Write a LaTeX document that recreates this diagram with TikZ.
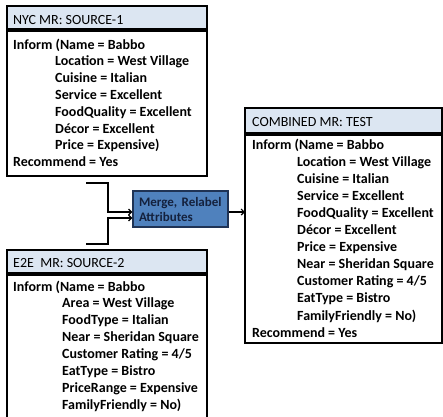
\documentclass[tikz,border=0pt]{standalone}
\usepackage{fontspec}
\setmainfont{Carlito}
\usetikzlibrary{arrows.meta}
\definecolor{hdrfill}{HTML}{DCE6F2}
\definecolor{mfill}{HTML}{4F81BD}
\definecolor{mdraw}{HTML}{1F3355}
\definecolor{mtext}{HTML}{14213D}
\begin{document}
\begin{tikzpicture}[x=1pt,y=-1pt,
  box/.style={draw=black, line width=1.3pt, anchor=north west, inner sep=0, outer sep=0},
  hdr/.style={box, fill=hdrfill},
  hdrtxt/.style={anchor=base west, inner sep=0, font=\fontsize{14}{16}\selectfont},
  bodytxt/.style={anchor=base west, inner sep=0, font=\bfseries\fontsize{14}{16}\selectfont},
  arr/.style={line width=1.2pt, -{Straight Barb[length=3pt,width=6pt]}}
]
\useasboundingbox (0,0) rectangle (443,416);
\clip (0,0) rectangle (443,416);

% Box 1
\node[hdr, minimum width=200pt, minimum height=23pt] (h1) at (7,6) {};
\node[hdrtxt] (h1t) at (13,24) {NYC MR: SOURCE-1};
\node[box, minimum width=200pt, minimum height=145pt] (b1) at (7,31) {};
\node[bodytxt] (s1a) at (13,49) {Inform (Name = Babbo};
\foreach \t [count=\i] in {Location = West Village, Cuisine = Italian, Service = Excellent, FoodQuality = Excellent, Décor = Excellent, Price = Expensive)}
  \node[bodytxt] (s1l\i) at (55,{49+16.8*\i}) {\t};
\node[bodytxt] (s1z) at (13,166.6) {Recommend = Yes};

% Box 2
\node[hdr, minimum width=200pt, minimum height=23pt] (h2) at (7,250) {};
\node[hdrtxt] (h2t) at (13,267) {E2E\ \ MR: SOURCE-2};
\node[box, minimum width=200pt, minimum height=150pt] (b2) at (7,275) {};
\node[bodytxt] (s2a) at (13,291) {Inform (Name = Babbo};
\foreach \t [count=\i] in {Area = West Village, FoodType = Italian, Near = Sheridan Square, Customer Rating = 4/5, EatType = Bistro, PriceRange = Expensive, FamilyFriendly = No)}
  \node[bodytxt] (s2l\i) at (62,{291+16.86*\i}) {\t};

% Box 3
\node[hdr, minimum width=197pt, minimum height=25pt] (h3) at (245,108) {};
\node[hdrtxt] (h3t) at (252,126) {COMBINED MR: TEST};
\node[box, minimum width=197pt, minimum height=208pt] (b3) at (245,135) {};
\node[bodytxt] (s3a) at (252,149) {Inform (Name = Babbo};
\foreach \t [count=\i] in {Location = West Village, Cuisine = Italian, Service = Excellent, FoodQuality = Excellent, Décor = Excellent, Price = Expensive, Near = Sheridan Square, Customer Rating = 4/5, EatType = Bistro, FamilyFriendly = No)}
  \node[bodytxt] (s3l\i) at (297,{149+17.1*\i}) {\t};
\node[bodytxt] (s3z) at (252,337.1) {Recommend = Yes};

% Merge box
\node[draw=mdraw, fill=mfill, line width=1.2pt, text=mtext, align=left,
      text width=83pt, inner xsep=6pt, minimum height=36pt,
      font=\bfseries\fontsize{13}{15}\selectfont] (mg) at (180.5,209) {Merge, Relabel\\Attributes};

% Connectors
\coordinate (in1) at (86,183);
\coordinate (j1) at (108,212);
\draw[arr] (in1) -| (j1) -- (j1 -| mg.west);
\coordinate (in2) at (86,244);
\coordinate (j2) at (108,218);
\draw[arr] (in2) -| (j2) -- (j2 -| mg.west);
\coordinate (o1) at (228,212);
\draw[arr] (o1 -| mg.east) -- (o1 -| b3.west);
\end{tikzpicture}
\end{document}
